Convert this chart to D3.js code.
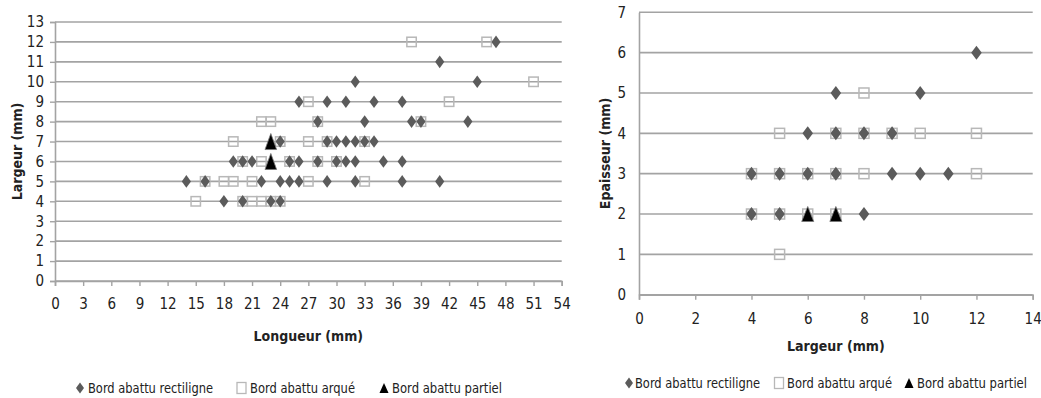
<!DOCTYPE html>
<html><head><meta charset="utf-8">
<script src="https://cdn.jsdelivr.net/npm/d3@7"></script>
<style>
html,body{margin:0;padding:0;background:#fff;}
svg text{font-family:"Liberation Sans Narrow","DejaVu Sans Condensed","Noto Sans",sans-serif;fill:#222;}
</style></head>
<body>
<svg id="c" width="1041" height="398"></svg>
<script>
// ---- Left chart data: Longueur (mm) vs Largeur (mm)
const leftRectiligne = [[14,5],[16,5],[18,4],[19,6],[20,6],[20,4],[21,6],[22,5],[23,4],[24,4],[24,5],[24,7],[25,5],[25,6],[26,5],[26,6],[26,9],[28,6],[28,8],[29,5],[29,7],[29,9],[30,6],[30,7],[31,6],[31,7],[31,9],[32,5],[32,6],[32,7],[32,10],[33,7],[33,8],[34,7],[34,9],[35,6],[37,5],[37,6],[37,9],[38,8],[39,8],[41,5],[41,11],[44,8],[45,10],[47,12]];
const leftArque = [[15,4],[20,4],[21,4],[22,4],[23,4],[24,4],[16,5],[18,5],[19,5],[21,5],[27,5],[33,5],[20,6],[22,6],[25,6],[28,6],[30,6],[19,7],[24,7],[27,7],[29,7],[33,7],[22,8],[23,8],[28,8],[39,8],[27,9],[42,9],[51,10],[38,12],[46,12]];
const leftPartiel = [[23,7],[23,6]];
const leftXTicks = [0,3,6,9,12,15,18,21,24,27,30,33,36,39,42,45,48,51,54];
const leftYTicks = [0,1,2,3,4,5,6,7,8,9,10,11,12,13];

// ---- Right chart data: Largeur (mm) vs Epaisseur (mm)
const rightRectiligne = [[4,2],[5,2],[8,2],[4,3],[5,3],[6,3],[7,3],[9,3],[10,3],[11,3],[6,4],[7,4],[8,4],[9,4],[7,5],[10,5],[12,6]];
const rightArque = [[5,1],[4,2],[5,2],[6,2],[7,2],[4,3],[5,3],[6,3],[7,3],[8,3],[12,3],[5,4],[7,4],[8,4],[9,4],[10,4],[12,4],[8,5]];
const rightPartiel = [[6,2],[7,2]];
const rightXTicks = [0,2,4,6,8,10,12,14];
const rightYTicks = [0,1,2,3,4,5,6,7];

const seriesNames = ["Bord abattu rectiligne","Bord abattu arqué","Bord abattu partiel"];

const svg = d3.select("#c");
const GRID = "#a3a3a3";

function diamond(hw,hh){return `M0,${-hh}L${hw},0L0,${hh}L${-hw},0Z`;}
function tri(hw,hh){return `M0,${-hh}L${hw},${hh}L${-hw},${hh}Z`;}

function chart(cfg){
  const g = svg.append("g");
  const x = d3.scaleLinear().domain(cfg.xDomain).range(cfg.xRange);
  const y = d3.scaleLinear().domain(cfg.yDomain).range(cfg.yRange);
  // gridlines
  g.append("g").selectAll("line").data(cfg.yTicks).join("line")
    .attr("x1",cfg.xRange[0]).attr("x2",cfg.xRange[1])
    .attr("y1",d=>y(d)).attr("y2",d=>y(d))
    .attr("stroke",GRID).attr("stroke-width",1.6);
  // y axis
  const ya = g.append("g").attr("transform",`translate(${cfg.xRange[0]},0)`)
    .call(d3.axisLeft(y).tickValues(cfg.yTicks).tickSize(cfg.yTickSize).tickPadding(cfg.yPad).tickFormat(d3.format("d")));
  ya.select(".domain").attr("stroke",GRID).attr("stroke-width",1.6);
  ya.selectAll(".tick line").attr("stroke",GRID).attr("stroke-width",1.4);
  ya.selectAll(".tick text").style("font-size",cfg.fs+"px").attr("fill","#222");
  // x axis
  const xa = g.append("g").attr("transform",`translate(0,${cfg.yRange[0]})`)
    .call(d3.axisBottom(x).tickValues(cfg.xTicks).tickSize(5).tickPadding(cfg.xPad).tickFormat(d3.format("d")));
  xa.select(".domain").attr("stroke",GRID).attr("stroke-width",1.6);
  xa.selectAll(".tick line").attr("stroke",GRID).attr("stroke-width",1.4);
  xa.selectAll(".tick text").style("font-size",cfg.fs+"px").attr("fill","#222");
  // titles
  g.append("text").attr("x",(cfg.xRange[0]+cfg.xRange[1])/2).attr("y",cfg.xTitleY)
    .attr("text-anchor","middle").style("font-size",cfg.tfs+"px").style("font-weight","bold").attr("fill","#111").text(cfg.xTitle);
  const yc=(cfg.yRange[0]+cfg.yRange[1])/2;
  g.append("text").attr("transform",`translate(${cfg.yTitleX},${yc}) rotate(-90)`)
    .attr("text-anchor","middle").style("font-size",cfg.tfs+"px").style("font-weight","bold").attr("fill","#111").text(cfg.yTitle);
  // marks: squares first (no fill), diamonds, triangles on top
  const s=cfg.sq;
  g.append("g").selectAll("rect").data(cfg.arque).join("rect")
    .attr("x",d=>x(d[0])-s).attr("y",d=>y(d[1])-s).attr("width",2*s).attr("height",2*s)
    .attr("fill","none").attr("stroke","#b8b8b8").attr("stroke-width",1.5);
  g.append("g").selectAll("path").data(cfg.rect).join("path")
    .attr("transform",d=>`translate(${x(d[0])},${y(d[1])})`)
    .attr("d",diamond(cfg.dw,cfg.dh)).attr("fill","#5b5b5b");
  g.append("g").selectAll("path").data(cfg.part).join("path")
    .attr("transform",d=>`translate(${x(d[0])},${y(d[1])})`)
    .attr("d",tri(cfg.tw,cfg.th)).attr("fill","#000").attr("stroke","#777").attr("stroke-width",0.8);
  // legend
  const L=g.append("g");
  const widths=[125,105,110];
  cfg.legend.forEach((it,i)=>{
    const gy=cfg.legendY;
    let m;
    if(i===0) m=L.append("path").attr("d",diamond(4,5.5)).attr("fill","#5b5b5b");
    else if(i===1) m=L.append("rect").attr("x",-4.5).attr("y",-5.5).attr("width",9).attr("height",11).attr("fill","none").attr("stroke","#b8b8b8").attr("stroke-width",1.3);
    else m=L.append("path").attr("d",tri(4.5,5)).attr("fill","#000");
    m.attr("transform",`translate(${it.mx},${gy})`);
    L.append("text").attr("x",it.tx).attr("y",gy).attr("dy","0.35em").style("font-size",cfg.lfs+"px")
      .attr("textLength",widths[i]).attr("lengthAdjust","spacingAndGlyphs")
      .attr("fill","#222").text(seriesNames[i]);
  });
}

chart({xDomain:[0,54],xRange:[55,561.7],yDomain:[0,13],yRange:[281,22],
  xTicks:leftXTicks,yTicks:leftYTicks,yTickSize:5,yPad:6,xPad:12,fs:15,tfs:14,
  xTitle:"Longueur (mm)",yTitle:"Largeur (mm)",xTitleY:341,yTitleX:22,
  rect:leftRectiligne,arque:leftArque,part:leftPartiel,
  sq:4.7,dw:4.6,dh:6.3,tw:5.8,th:8,
  legendY:388,lfs:14,
  legend:[{mx:80,tx:88},{mx:241.5,tx:250},{mx:384,tx:392}]});

chart({xDomain:[0,14],xRange:[639,1032.7],yDomain:[0,7],yRange:[294.7,12.3],
  xTicks:rightXTicks,yTicks:rightYTicks,yTickSize:0,yPad:13,xPad:14,fs:15,tfs:14,
  xTitle:"Largeur (mm)",yTitle:"Epaisseur (mm)",xTitleY:351,yTitleX:610,
  rect:rightRectiligne,arque:rightArque,part:rightPartiel,
  sq:5,dw:5.3,dh:7,tw:6,th:7.5,
  legendY:383,lfs:14,
  legend:[{mx:629,tx:635},{mx:779,tx:787},{mx:909,tx:917}]});
</script>
</body></html>
